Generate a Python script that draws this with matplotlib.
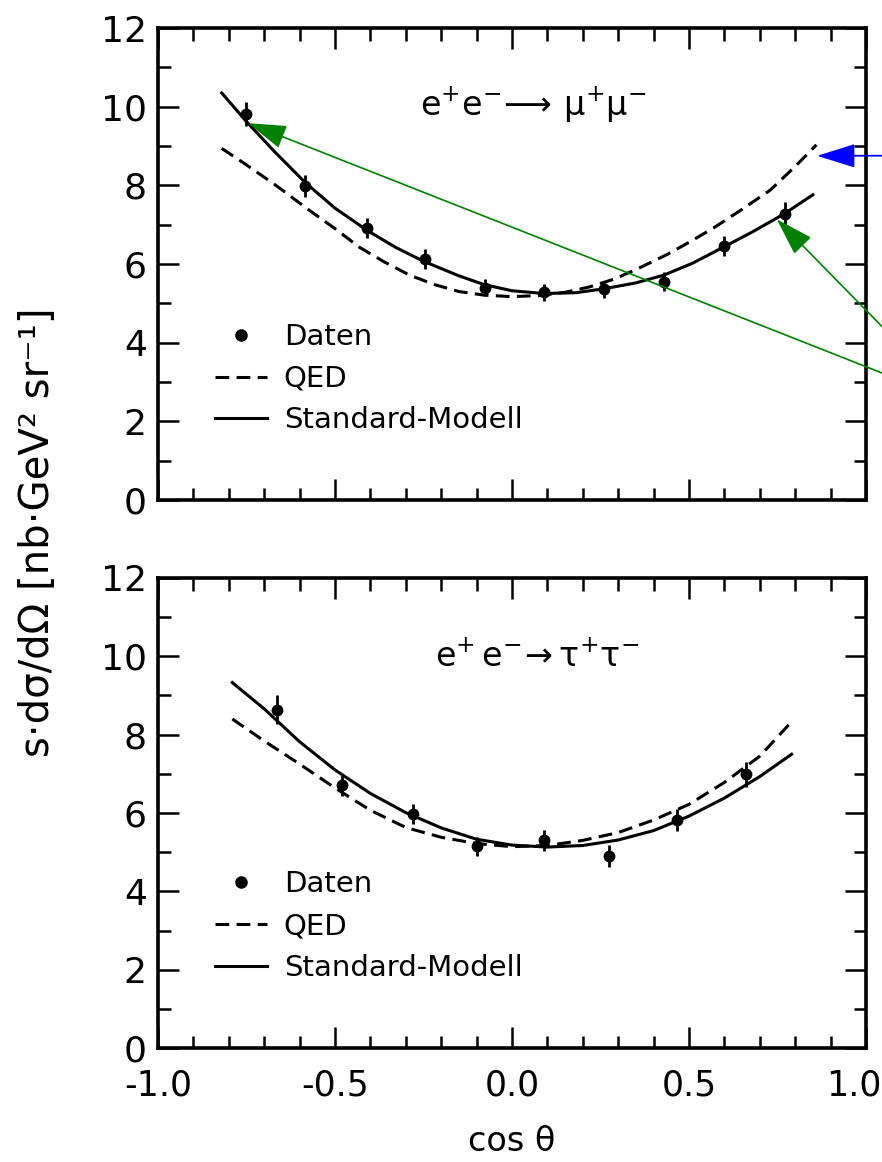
import matplotlib
matplotlib.use("Agg")
import matplotlib.pyplot as plt
from matplotlib.ticker import MultipleLocator
from matplotlib.lines import Line2D
from matplotlib.transforms import ScaledTranslation

plt.rcParams['font.family'] = ['DejaVu Sans']
plt.rcParams['mathtext.fontset'] = 'dejavusans'
plt.rcParams['axes.unicode_minus'] = False

# ---------------- data: e+e- -> mu+mu- ----------------
mu_cos = [-0.75, -0.585, -0.41, -0.245, -0.075, 0.09, 0.26, 0.43, 0.60, 0.77]
mu_val = [9.82, 7.98, 6.92, 6.12, 5.40, 5.28, 5.36, 5.55, 6.46, 7.28]
mu_err = [0.30, 0.28, 0.26, 0.25, 0.22, 0.22, 0.22, 0.24, 0.26, 0.30]

mu_sm_cos = [-0.82, -0.75, -0.67, -0.585, -0.50, -0.41, -0.33, -0.25, -0.15, -0.08,
             0.0, 0.09, 0.18, 0.26, 0.35, 0.43, 0.51, 0.60, 0.68, 0.77, 0.85]
mu_sm_val = [10.35, 9.62, 8.85, 8.08, 7.42, 6.86, 6.43, 6.07, 5.70, 5.48,
             5.32, 5.25, 5.27, 5.37, 5.52, 5.72, 6.02, 6.44, 6.82, 7.28, 7.76]

mu_qed_cos = [-0.82, -0.75, -0.67, -0.57, -0.50, -0.43, -0.36, -0.29, -0.22, -0.15, -0.08,
              0.0, 0.08, 0.15, 0.22, 0.29, 0.36, 0.44, 0.50, 0.57, 0.64, 0.73, 0.80, 0.86]
mu_qed_val = [8.94, 8.52, 8.02, 7.35, 6.90, 6.42, 6.05, 5.72, 5.48, 5.30, 5.21,
              5.17, 5.20, 5.28, 5.42, 5.62, 5.90, 6.25, 6.55, 6.92, 7.33, 7.88, 8.48, 9.03]

# ---------------- data: e+e- -> tau+tau- ----------------
tau_cos = [-0.665, -0.48, -0.28, -0.10, 0.09, 0.275, 0.467, 0.66]
tau_val = [8.64, 6.72, 5.98, 5.15, 5.30, 4.91, 5.81, 6.99]
tau_err = [0.38, 0.28, 0.26, 0.24, 0.26, 0.28, 0.28, 0.32]

tau_sm_cos = [-0.79, -0.70, -0.60, -0.50, -0.40, -0.30, -0.20, -0.10, 0.0,
              0.10, 0.20, 0.30, 0.40, 0.50, 0.60, 0.70, 0.79]
tau_sm_val = [9.33, 8.66, 7.82, 7.10, 6.50, 6.01, 5.62, 5.33, 5.18,
              5.13, 5.17, 5.31, 5.55, 5.92, 6.38, 6.93, 7.50]

tau_qed_cos = [-0.79, -0.70, -0.60, -0.50, -0.40, -0.30, -0.20, -0.10, 0.0,
               0.10, 0.20, 0.30, 0.40, 0.50, 0.60, 0.70, 0.79]
tau_qed_val = [8.40, 7.84, 7.25, 6.64, 6.07, 5.63, 5.38, 5.22, 5.14,
               5.17, 5.30, 5.50, 5.82, 6.22, 6.78, 7.45, 8.33]

legend_labels = ['Daten', 'QED', 'Standard-Modell']
x_ticks = [-1.0, -0.5, 0.0, 0.5, 1.0]
x_tick_labels = ['-1.0', '-0.5', '0.0', '0.5', '1.0']
y_ticks = [0, 2, 4, 6, 8, 10, 12]

# ---------------- figure ----------------
fig = plt.figure(figsize=(8.82, 11.62), dpi=100)
ax1 = fig.add_axes([0.1791, 0.5697, 0.8027, 0.4062])
ax2 = fig.add_axes([0.1791, 0.0981, 0.8027, 0.4045])

LW = 2.2
DASH = (4.5, 2.4)

def style(ax, show_x):
    ax.set_xlim(-1.0, 1.0)
    ax.set_ylim(0, 12)
    ax.set_xticks(x_ticks)
    ax.set_yticks(y_ticks)
    ax.xaxis.set_minor_locator(MultipleLocator(0.1))
    ax.yaxis.set_minor_locator(MultipleLocator(1))
    ax.tick_params(which='both', direction='in', top=True, right=True, width=1.8, color='black')
    ax.tick_params(which='major', length=15)
    ax.tick_params(which='minor', length=9)
    ax.tick_params(axis='y', which='major', labelsize=26, pad=8)
    ax.tick_params(axis='x', which='major', labelsize=25, pad=15)
    if show_x:
        ax.set_xticklabels(x_tick_labels)
    else:
        ax.tick_params(axis='x', labelbottom=False)
    for s in ax.spines.values():
        s.set_linewidth(2.6)

def panel(ax, cx, cy, ce, smx, smy, qx, qy, title, tx, ty, leg_y):
    ax.plot(qx, qy, color='black', lw=LW, linestyle=(0, DASH))
    ax.plot(smx, smy, color='black', lw=LW)
    ax.errorbar(cx, cy, yerr=ce, fmt='o', color='black', ms=7.5, elinewidth=2.0, capsize=0)
    ax.text(tx, ty, title, ha='center', va='center', fontsize=24)
    handles = [Line2D([], [], marker='o', linestyle='none', color='black', ms=8),
               Line2D([], [], color='black', lw=LW, linestyle=(0, DASH)),
               Line2D([], [], color='black', lw=LW)]
    ax.legend(handles, legend_labels, loc='upper left', bbox_to_anchor=(0.08, leg_y),
              frameon=False, fontsize=21, handlelength=1.8, handletextpad=0.57,
              labelspacing=0.47, borderpad=0, borderaxespad=0)

style(ax1, False)
style(ax2, True)

# nudge the last x tick label so it stays inside the canvas
last = ax2.get_xticklabels()[-1]
last.set_transform(last.get_transform() + ScaledTranslation(-0.12, 0, fig.dpi_scale_trans))

panel(ax1, mu_cos, mu_val, mu_err, mu_sm_cos, mu_sm_val, mu_qed_cos, mu_qed_val,
      r'$\mathregular{e^{+}e^{-}\!\longrightarrow\,\mu^{+}\mu^{-}}$', 0.06, 10.05, 0.375)
panel(ax2, tau_cos, tau_val, tau_err, tau_sm_cos, tau_sm_val, tau_qed_cos, tau_qed_val,
      r'$\mathregular{e^{+}\,e^{-}\!\rightarrow\tau^{+}\tau^{-}}$', 0.07, 9.98, 0.378)

ax2.set_xlabel('cos θ', fontsize=24, labelpad=16)
fig.text(0.043, 0.542, 's·dσ/dΩ [nb·GeV² sr⁻¹]', rotation=90, ha='center', va='center', fontsize=29)

# ---------------- overlay arrows ----------------
ax1.annotate('', xy=(0.862, 8.75), xycoords='data', xytext=(1.0, 0.866), textcoords='figure fraction',
             arrowprops=dict(arrowstyle='-|>,head_length=2.4,head_width=0.75', color='#0000ff',
                             lw=1.3, mutation_scale=10, shrinkA=0, shrinkB=0), zorder=10)
ax1.annotate('', xy=(-0.745, 9.58), xycoords='data', xytext=(1.0, 0.679), textcoords='figure fraction',
             arrowprops=dict(arrowstyle='-|>,head_length=2.4,head_width=0.75', color='#008000',
                             lw=1.2, mutation_scale=10, shrinkA=0, shrinkB=0), zorder=10)
ax1.annotate('', xy=(0.748, 7.14), xycoords='data', xytext=(1.0, 0.719), textcoords='figure fraction',
             arrowprops=dict(arrowstyle='-|>,head_length=2.4,head_width=0.75', color='#008000',
                             lw=1.2, mutation_scale=10, shrinkA=0, shrinkB=0), zorder=10)

fig.savefig('out.png', dpi=100)
